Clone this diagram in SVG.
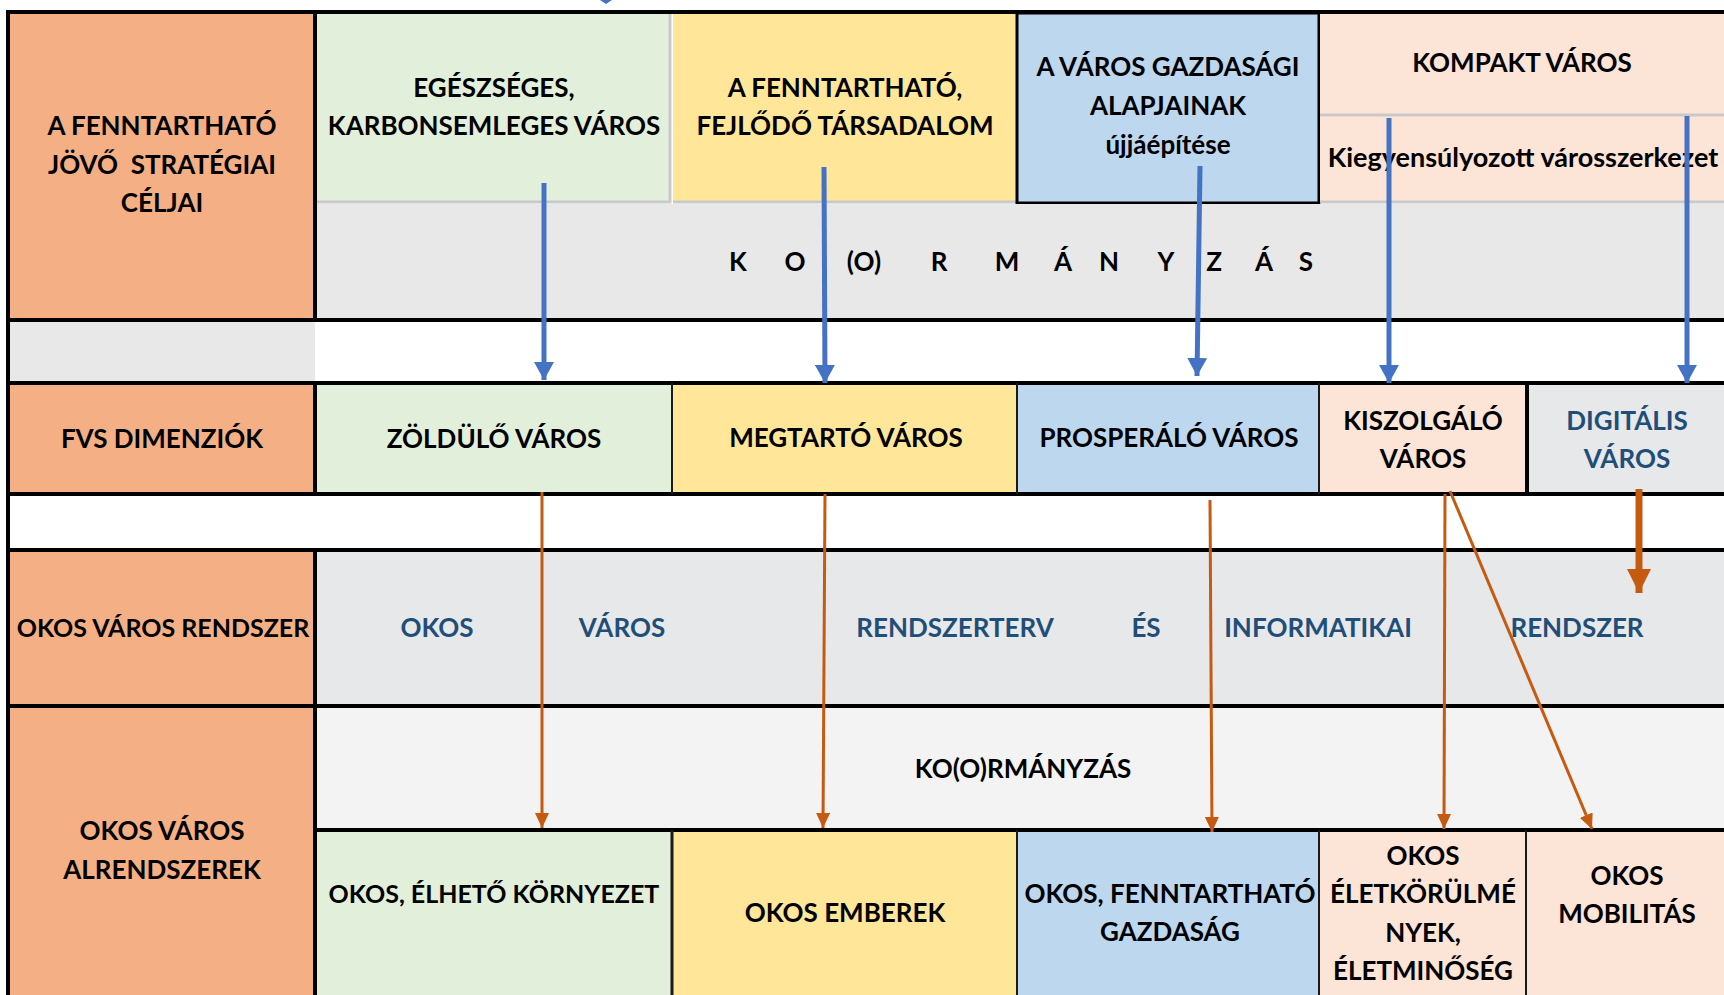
<svg xmlns="http://www.w3.org/2000/svg" width="1724" height="995" viewBox="0 0 1724 995">
<defs>
<style>
.t{font-family:Lato,"Open Sans","Liberation Sans",sans-serif;font-weight:700;font-size:26px;fill:#000;text-anchor:middle}
.b{fill:#1F4E79}
.k{stroke:#000;stroke-width:4;fill:none}
.thin{stroke:#1a1a1a;stroke-width:2;fill:none}
.gr{stroke:#C9C9C9;stroke-width:3;fill:none}
.blu{stroke:#4472C4;stroke-width:5;fill:none;marker-end:url(#ab)}
.org{stroke:#C55A11;stroke-width:3;fill:none;marker-end:url(#ao)}
.orgT{stroke:#C55A11;stroke-width:7;fill:none;marker-end:url(#aoT)}
.or{fill:#F4B084}.gn{fill:#E2EFDA}.yl{fill:#FFE699}.bl{fill:#BDD7EE}.pc{fill:#FCE4D6}.gy{fill:#E8E8E8}.gs{fill:#E7E8EA}.lw{fill:#F3F3F3}
</style>
<marker id="ab" markerUnits="userSpaceOnUse" viewBox="0 0 18 20" markerWidth="18" markerHeight="20" refX="18" refY="10" orient="auto"><path d="M0,0 L18,10 L0,20 z" fill="#4472C4"/></marker>
<marker id="ao" markerUnits="userSpaceOnUse" viewBox="0 0 15 14" markerWidth="15" markerHeight="14" refX="15" refY="7" orient="auto"><path d="M0,0 L15,7 L0,14 z" fill="#C55A11"/></marker>
<marker id="aoT" markerUnits="userSpaceOnUse" viewBox="0 0 24 24" markerWidth="24" markerHeight="24" refX="24" refY="12" orient="auto"><path d="M0,0 L24,12 L0,24 z" fill="#C55A11"/></marker>
</defs>
<rect width="1724" height="995" fill="#fff"/>

<g id="row1-label"><rect class="or" x="10" y="13" width="305" height="306"/>
<text class="t" x="162" y="135">A FENNTARTHATÓ</text><text class="t" x="162" y="174" xml:space="preserve">JÖVŐ  STRATÉGIAI</text><text class="t" x="162" y="212">CÉLJAI</text></g>
<g id="goal-green"><rect class="gn" x="317" y="13" width="354" height="190"/><path class="gr" d="M670,13 V202 H317"/>
<text class="t" x="494" y="97">EGÉSZSÉGES,</text><text class="t" x="494" y="135">KARBONSEMLEGES VÁROS</text></g>
<g id="goal-yellow"><rect class="yl" x="673" y="13" width="344" height="190"/><path class="gr" d="M673,202 H1017"/>
<text class="t" x="845" y="97">A FENNTARTHATÓ,</text><text class="t" x="845" y="135">FEJLŐDŐ TÁRSADALOM</text></g>
<g id="goal-blue"><rect class="bl" x="1017" y="13" width="302" height="190" stroke="#000" stroke-width="3"/>
<text class="t" x="1168" y="76">A VÁROS GAZDASÁGI</text><text class="t" x="1168" y="115">ALAPJAINAK</text><text class="t" x="1168" y="154">újjáépítése</text></g>
<g id="goal-peach"><rect class="pc" x="1320" y="13" width="404" height="190"/><path class="gr" d="M1320,115 H1724 M1320,202 H1724"/>
<text class="t" x="1522" y="72">KOMPAKT VÁROS</text><text class="t" x="1523" y="167" style="font-size:27px">Kiegyensúlyozott városszerkezet</text></g>
<g id="kormanyzas-spaced"><rect class="gy" x="317" y="204" width="1407" height="115"/>
<text class="t" x="738" y="271">K</text><text class="t" x="795" y="271">O</text><text class="t" x="864" y="271">(O)</text><text class="t" x="939" y="271">R</text><text class="t" x="1007" y="271">M</text><text class="t" x="1063" y="271">Á</text><text class="t" x="1109" y="271">N</text><text class="t" x="1166" y="271">Y</text><text class="t" x="1214" y="271">Z</text><text class="t" x="1264" y="271">Á</text><text class="t" x="1306" y="271">S</text></g>
<g id="row2-strip"><rect class="gy" x="10" y="322" width="305" height="59"/></g>

<g id="row3-label"><rect class="or" x="10" y="385" width="305" height="107"/><text class="t" x="162" y="448">FVS DIMENZIÓK</text></g>
<g id="dim-green"><rect class="gn" x="317" y="385" width="355" height="107"/><text class="t" x="494" y="448">ZÖLDÜLŐ VÁROS</text></g>
<g id="dim-yellow"><rect class="yl" x="673" y="385" width="344" height="107"/><text class="t" x="846" y="447">MEGTARTÓ VÁROS</text></g>
<g id="dim-blue"><rect class="bl" x="1017" y="385" width="302" height="107"/><text class="t" x="1169" y="447">PROSPERÁLÓ VÁROS</text></g>
<g id="dim-peach"><rect class="pc" x="1319" y="385" width="208" height="107"/><text class="t" x="1423" y="430">KISZOLGÁLÓ</text><text class="t" x="1423" y="468">VÁROS</text></g>
<g id="dim-digital"><rect class="gs" x="1527" y="385" width="197" height="107"/><text class="t b" x="1627" y="430">DIGITÁLIS</text><text class="t b" x="1627" y="468">VÁROS</text></g>

<g id="row5-label"><rect class="or" x="10" y="552" width="305" height="153"/><text class="t" x="163" y="637" style="font-size:25px">OKOS VÁROS RENDSZER</text></g>
<g id="okos-rendszer"><rect class="gs" x="317" y="552" width="1407" height="153"/>
<text class="t b" x="437" y="637">OKOS</text><text class="t b" x="622" y="637">VÁROS</text><text class="t b" x="955" y="637">RENDSZERTERV</text><text class="t b" x="1146" y="637">ÉS</text><text class="t b" x="1318" y="637">INFORMATIKAI</text><text class="t b" x="1577" y="637">RENDSZER</text></g>

<g id="row6-label"><rect class="or" x="10" y="708" width="305" height="287"/><text class="t" x="162" y="840">OKOS VÁROS</text><text class="t" x="162" y="879">ALRENDSZEREK</text></g>
<g id="kormanyzas"><rect class="lw" x="317" y="708" width="1407" height="121"/><text class="t" x="1023" y="778">KO(O)RMÁNYZÁS</text></g>
<g id="sub-green"><rect class="gn" x="317" y="832" width="355" height="163"/><text class="t" x="494" y="903" style="font-size:25px">OKOS, ÉLHETŐ KÖRNYEZET</text></g>
<g id="sub-yellow"><rect class="yl" x="673" y="832" width="344" height="163"/><text class="t" x="845" y="922">OKOS EMBEREK</text></g>
<g id="sub-blue"><rect class="bl" x="1017" y="832" width="302" height="163"/><text class="t" x="1170" y="903">OKOS, FENNTARTHATÓ</text><text class="t" x="1170" y="941">GAZDASÁG</text></g>
<g id="sub-peach1"><rect class="pc" x="1319" y="832" width="207" height="163"/><text class="t" x="1423" y="865">OKOS</text><text class="t" x="1423" y="903">ÉLETKÖRÜLMÉ</text><text class="t" x="1423" y="942">NYEK,</text><text class="t" x="1423" y="980">ÉLETMINŐSÉG</text></g>
<g id="sub-peach2"><rect class="pc" x="1526" y="832" width="198" height="163"/><text class="t" x="1627" y="885">OKOS</text><text class="t" x="1627" y="923">MOBILITÁS</text></g>

<g id="grid">
<path class="k" d="M8,11 V995 M6,12 H1724 M315,12 V320 M315,382 V494 M315,549 V995 M6,320 H1724 M6,383 H1724 M6,494 H1724 M6,550 H1724 M6,706 H1724 M315,830 H1724 M1527,383 V494"/>
<path class="thin" d="M672,383 V494 M1017,383 V494 M1319,383 V494 M1017,830 V995 M1319,830 V995 M1526,830 V995"/>
<path stroke="#1a1a1a" stroke-width="3" d="M672,830 V995"/>
</g>

<g id="connectors">
<path d="M600,0 L612,0 L606,4 z" fill="#4472C4"/>
<line class="blu" x1="544" y1="183" x2="544" y2="380"/>
<line class="blu" x1="824" y1="167" x2="825" y2="383"/>
<line class="blu" x1="1200" y1="166" x2="1197" y2="376"/>
<line class="blu" x1="1389" y1="118" x2="1389" y2="383"/>
<line class="blu" x1="1687" y1="116" x2="1687" y2="383"/>
<line class="org" x1="542" y1="492" x2="542" y2="828"/>
<line class="org" x1="825" y1="494" x2="823" y2="828"/>
<line class="org" x1="1210" y1="500" x2="1212" y2="832"/>
<line class="org" x1="1445" y1="494" x2="1444" y2="829"/>
<line class="org" x1="1450" y1="491" x2="1592" y2="829"/>
<line class="orgT" x1="1639" y1="489" x2="1639" y2="593"/>
</g>
</svg>
